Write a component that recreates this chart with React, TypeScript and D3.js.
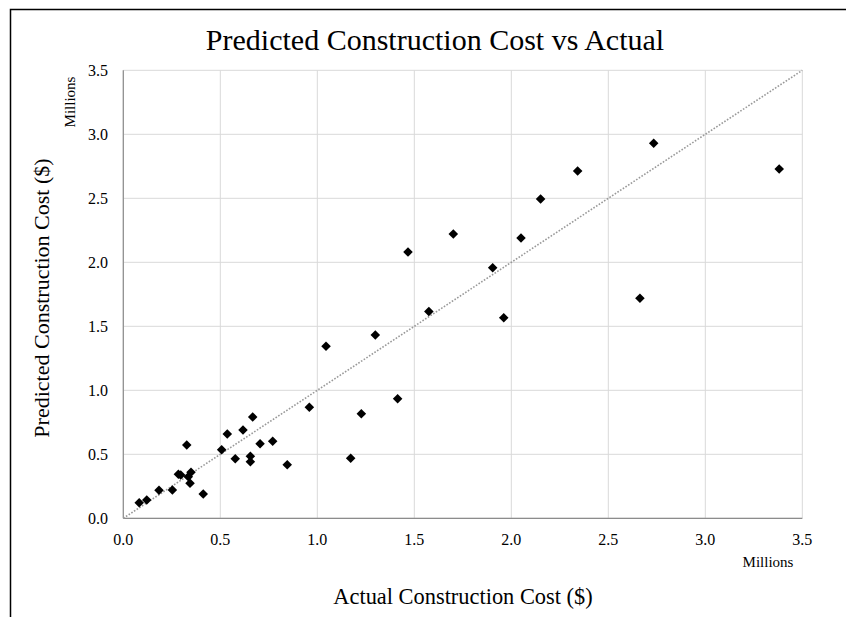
import React from "react";
import * as d3 from "d3";

const actual: number[] = [
  0.082, 0.121, 0.184, 0.253, 0.284, 0.296, 0.327, 0.349, 0.335, 0.344,
  0.412, 0.507, 0.536, 0.577, 0.617, 0.667, 0.655, 0.655, 0.705, 0.77,
  0.845, 0.959, 1.045, 1.172, 1.227, 1.299, 1.414, 1.575, 1.961, 1.4675,
  1.701, 1.904, 2.05, 2.151, 2.342, 2.734, 2.663, 3.381,
];
const predicted: number[] = [
  0.122, 0.143, 0.219, 0.221, 0.344, 0.338, 0.573, 0.359, 0.325, 0.273,
  0.19, 0.536, 0.659, 0.466, 0.69, 0.791, 0.484, 0.442, 0.583, 0.602,
  0.419, 0.867, 1.344, 0.469, 0.817, 1.432, 0.934, 1.615, 1.567, 2.08,
  2.221, 1.958, 2.19, 2.495, 2.713, 2.93, 1.719, 2.729,
];
const ticks: number[] = [0, 0.5, 1, 1.5, 2, 2.5, 3, 3.5];

const W = 846;
const H = 617;
const FONT = "'Liberation Serif', 'Times New Roman', serif";

export default function App() {
  const x = d3.scaleLinear().domain([0, 3.5]).range([123.3, 802.3]);
  const y = d3.scaleLinear().domain([0, 3.5]).range([518.3, 70.3]);
  const diamond = d3.symbol().type(d3.symbolDiamond2).size(58)();
  const fmt = d3.format(".1f");

  return (
    <svg
      width={W}
      height={H}
      style={{ position: "absolute", left: 0, top: 0 }}
      fontFamily={FONT}
    >
      <rect x={0} y={0} width={W} height={H} fill="#fff" />
      <rect
        x={10.5}
        y={9.5}
        width={W + 20}
        height={H + 20}
        fill="#fff"
        stroke="#000"
        strokeWidth={1.5}
      />
      {/* grid */}
      {ticks.map((t) => (
        <line
          key={"gx" + t}
          x1={x(t)}
          x2={x(t)}
          y1={y(0)}
          y2={y(3.5)}
          stroke="#d9d9d9"
          strokeWidth={1}
        />
      ))}
      {ticks.map((t) => (
        <line
          key={"gy" + t}
          x1={x(0)}
          x2={x(3.5)}
          y1={y(t)}
          y2={y(t)}
          stroke="#d9d9d9"
          strokeWidth={1}
        />
      ))}
      {/* axes */}
      <line x1={x(0)} x2={x(0)} y1={y(0)} y2={y(3.5)} stroke="#8c8c8c" strokeWidth={1.2} />
      <line x1={x(0)} x2={x(3.5)} y1={y(0)} y2={y(0)} stroke="#8c8c8c" strokeWidth={1.2} />
      {/* diagonal */}
      <line
        x1={x(0)}
        y1={y(0)}
        x2={x(3.5)}
        y2={y(3.5)}
        stroke="#999"
        strokeWidth={1.6}
        strokeDasharray="1.6 1.6"
      />
      {/* points */}
      {actual.map((a, i) => (
        <path
          key={"p" + i}
          d={diamond || ""}
          transform={`translate(${x(a)},${y(predicted[i])})`}
          fill="#000"
        />
      ))}
      {/* tick labels */}
      {ticks.map((t) => (
        <text
          key={"ty" + t}
          x={108}
          y={y(t) + 5.5}
          textAnchor="end"
          fontSize={16}
          fill="#000"
        >
          {fmt(t)}
        </text>
      ))}
      {ticks.map((t) => (
        <text
          key={"tx" + t}
          x={x(t)}
          y={545}
          textAnchor="middle"
          fontSize={16}
          fill="#000"
        >
          {fmt(t)}
        </text>
      ))}
      <text x={768} y={567} textAnchor="middle" fontSize={15} fill="#000">
        Millions
      </text>
      <text
        transform={`translate(75,102) rotate(-90)`}
        textAnchor="middle"
        fontSize={15}
        fill="#000"
      >
        Millions
      </text>
      {/* titles */}
      <text x={435} y={50} textAnchor="middle" fontSize={30} fill="#000">
        Predicted Construction Cost vs Actual
      </text>
      <text x={463} y={604} textAnchor="middle" fontSize={22.4} fill="#000">
        Actual Construction Cost ($)
      </text>
      <text
        transform={`translate(49,298) rotate(-90)`}
        textAnchor="middle"
        fontSize={22}
        fill="#000"
      >
        Predicted Construction Cost ($)
      </text>
    </svg>
  );
}
